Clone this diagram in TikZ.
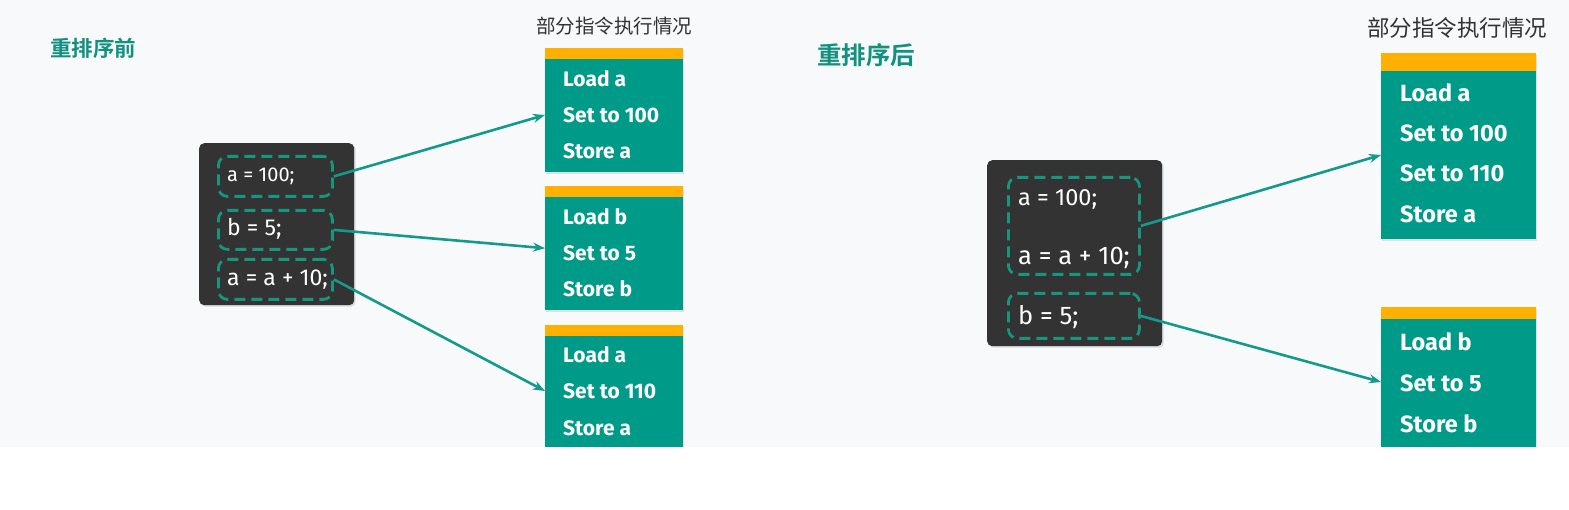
\documentclass[tikz,border=0pt]{standalone}
\usepackage{fontspec}
\setmainfont{Fira Sans}
\newfontfamily\cjk{Noto Sans CJK SC}[BoldFont={Noto Sans CJK SC Bold}]
\usetikzlibrary{arrows.meta,shadows}
\definecolor{pagebg}{HTML}{F8F9FB}
\definecolor{insteal}{HTML}{009A89}
\definecolor{bandorange}{HTML}{FFB000}
\definecolor{codebg}{HTML}{333333}
\definecolor{dashteal}{HTML}{17967F}
\definecolor{titleteal}{HTML}{13917F}
\definecolor{linkteal}{HTML}{139A8C}
\definecolor{captiongray}{HTML}{333333}
\tikzset{
  codebox/.style={fill=codebg, rounded corners=5pt, anchor=north west, inner sep=0pt,
    drop shadow={opacity=0.25, shadow xshift=1.5pt, shadow yshift=-1.5pt}},
  stmtbox/.style={draw=dashteal, line width=2.8pt, dash pattern=on 11pt off 6pt,
    rounded corners=9pt, anchor=north west, inner sep=0pt},
  stmt/.style={text=white, anchor=west, inner sep=0pt, font=\fontsize{#1}{#1}\selectfont},
  insbox/.style={fill=insteal, anchor=north west, inner sep=0pt,
    drop shadow={opacity=0.2, shadow xshift=1pt, shadow yshift=-1.5pt}},
  insline/.style={text=white, anchor=west, inner sep=0pt,
    font=\bfseries\fontsize{#1}{#1}\selectfont},
  insline/.default=21,
  title/.style={text=titleteal, font=\cjk\bfseries\fontsize{#1}{#1}\selectfont},
  caption/.style={text=captiongray, font=\cjk\fontsize{#1}{#1}\selectfont},
  link/.style={draw=linkteal, line width=2.6pt, -{Stealth[length=12pt,width=9pt]}}
}
\begin{document}
\begin{tikzpicture}[x=1pt,y=-1pt]
  \useasboundingbox (0,0) rectangle (1569,510);
  \fill[pagebg] (0,0) rectangle (1569,447);

  % before reordering
  \node[title=21.5] (t1) at (93,48) {重排序前};
  \node[caption=19.5] (c1) at (614,26) {部分指令执行情况};
  \node[codebox, minimum width=155pt, minimum height=162pt] (code1) at (199,143) {};
  \node[stmtbox, minimum width=114pt, minimum height=40pt] (s1) at (217,155) {};
  \node[stmtbox, minimum width=114pt, minimum height=39pt] (s2) at (217,209) {};
  \node[stmtbox, minimum width=114pt, minimum height=40pt] (s3) at (217,258) {};
  \node[stmt=20] (s1t) at (227,176) {a = 100;};
  \node[stmt=23] (s2t) at (227,229) {b = 5;};
  \node[stmt=23] (s3t) at (227,280) {a = a + 10;};

  \node[insbox, minimum width=138pt, minimum height=124pt] (i1) at (545,48) {};
  \node[insbox, minimum width=138pt, minimum height=124pt] (i2) at (545,186) {};
  \node[insbox, minimum width=138pt, minimum height=122pt] (i3) at (545,325) {};
  \foreach \b in {i1,i2,i3}
    \fill[bandorange] (\b.north west) rectangle ([yshift=-11pt]\b.north east);
  \node[insline] (i1a) at (563,79) {Load a};
  \node[insline] (i1b) at (563,115) {Set to 100};
  \node[insline] (i1c) at (563,151) {Store a};
  \node[insline] (i2a) at (563,217) {Load b};
  \node[insline] (i2b) at (563,253) {Set to 5};
  \node[insline] (i2c) at (563,289) {Store b};
  \node[insline] (i3a) at (563,355) {Load a};
  \node[insline] (i3b) at (563,391) {Set to 110};
  \node[insline] (i3c) at (563,428) {Store a};

  \draw[link] (s1.east) -- (i1.west |- 0,115);
  \draw[link] (s2.east) -- (i2.west);
  \draw[link] (s3.east) -- (i3.west |- 0,391);

  % after reordering
  \node[title=24.5] (t2) at (866,55) {重排序后};
  \node[caption=22.5] (c2) at (1457,28) {部分指令执行情况};
  \node[codebox, minimum width=175pt, minimum height=186pt] (code2) at (987,160) {};
  \node[stmtbox, minimum width=131pt, minimum height=97pt] (r1) at (1007,176) {};
  \node[stmtbox, minimum width=131pt, minimum height=45pt] (r2) at (1007,292) {};
  \node[stmt=23.5] (r1t) at (1018,199) {a = 100;};
  \node[stmt=25.5] (r1u) at (1018,258) {a = a + 10;};
  \node[stmt=25.5] (r2t) at (1018,317) {b = 5;};

  \node[insbox, minimum width=155pt, minimum height=186pt] (j1) at (1381,53) {};
  \node[insbox, minimum width=155pt, minimum height=140pt] (j2) at (1381,307) {};
  \fill[bandorange] (j1.north west) rectangle ([yshift=-18pt]j1.north east);
  \fill[bandorange] (j2.north west) rectangle ([yshift=-12pt]j2.north east);
  \node[insline=23.5] (j1a) at (1400,93) {Load a};
  \node[insline=23.5] (j1b) at (1400,133) {Set to 100};
  \node[insline=23.5] (j1c) at (1400,173) {Set to 110};
  \node[insline=23.5] (j1d) at (1400,214) {Store a};
  \node[insline=23.5] (j2a) at (1400,342) {Load b};
  \node[insline=23.5] (j2b) at (1400,383) {Set to 5};
  \node[insline=23.5] (j2c) at (1400,424) {Store b};

  \draw[link] (r1.east) -- (j1.west |- 0,155);
  \draw[link] (r2.east) -- (j2.west |- 0,382);

  \fill[white] (0,447) rectangle (1569,510);
\end{tikzpicture}
\end{document}
